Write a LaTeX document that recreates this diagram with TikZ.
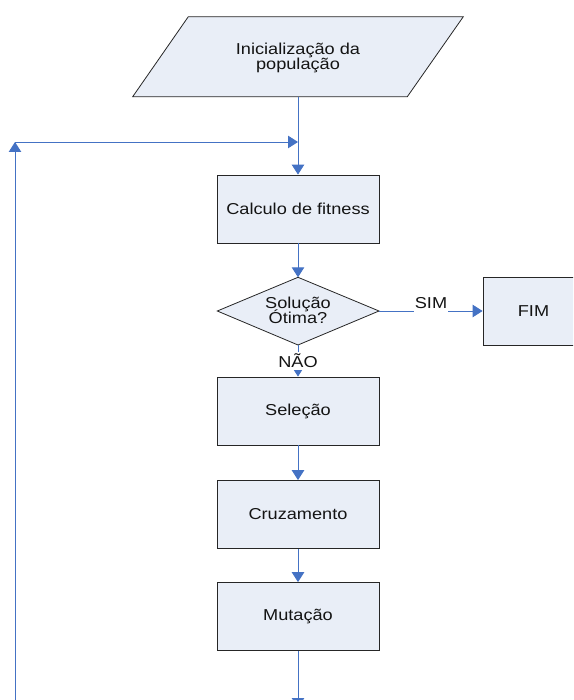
\documentclass[tikz,border=0pt]{standalone}
\usepackage{fontspec}
\newfontfamily\diagfont[FakeStretch=1.15]{Liberation Sans}
\usetikzlibrary{arrows.meta}
\definecolor{boxfill}{RGB}{233,238,247}
\definecolor{flowblue}{RGB}{68,114,196}
\definecolor{inkgray}{RGB}{20,20,20}
\newcommand\diaglabelfont{\diagfont\fontsize{15.8}{13}\selectfont}
\begin{document}
\begin{tikzpicture}[x=1pt,y=-1pt,
  shape outline/.style={draw=black!85, line width=0.8pt, fill=boxfill},
  label text/.style={font=\diaglabelfont, text=inkgray},
  textline/.style={label text, anchor=base, inner sep=0pt},
  stepbox/.style={shape outline, rectangle, minimum width=162pt,
    minimum height=68pt, inner sep=0pt, label text},
  flow/.style={draw=flowblue, line width=0.9pt,
    -{Triangle[width=12.5pt,length=10pt]}},
  tag/.style={fill=white, inner xsep=1pt, label text, anchor=base}]

  \useasboundingbox (0,0) rectangle (573,700);
  \clip (0,0) rectangle (573,700);

  % start: input parallelogram
  \coordinate (ptl) at (188.3,16.7);
  \coordinate (ptr) at (463.3,16.7);
  \coordinate (pbr) at (407.3,96.7);
  \coordinate (pbl) at (132.7,96.7);
  \coordinate (pbottom) at (298,96.7);
  \draw[shape outline] (ptl) -- (ptr) -- (pbr) -- (pbl) -- cycle;
  \node[textline] (init1) at (298,54.4) {Inicialização da};
  \node[textline] (init2) at (298,69.4) {população};

  % process steps
  \node[stepbox] (calc) at (298,209) {Calculo de fitness};
  \node[stepbox] (sel)  at (298,411) {Seleção};
  \node[stepbox] (cruz) at (298,514.5) {Cruzamento};
  \node[stepbox] (mut)  at (298,616.5) {Mutação};
  \node[stepbox, minimum width=101pt] (fim) at (533.5,311) {FIM};

  % decision diamond
  \coordinate (dtop) at (298,277.3);
  \coordinate (dright) at (379,311);
  \coordinate (dbottom) at (298,345);
  \coordinate (dleft) at (217.3,311);
  \draw[shape outline] (dtop) -- (dright) -- (dbottom) -- (dleft) -- cycle;
  \node[textline] (decide1) at (298,308.6) {Solução};
  \node[textline] (decide2) at (298,323.2) {Ótima?};

  % loop back to fitness evaluation
  \coordinate (loopfoot) at (15,720);
  \coordinate (loopcorner) at (15,142);
  \coordinate (merge) at (298,142);
  \coordinate (mutout) at (298,708);

  % connectors
  \draw[flow] (pbottom) -- (calc.north);
  \draw[flow] (calc.south) -- (dtop);
  \draw[flow] (dright) -- (fim.west);
  \draw[flow] (dbottom) -- (sel.north);
  \draw[flow] (sel.south) -- (cruz.north);
  \draw[flow] (cruz.south) -- (mut.north);
  \draw[flow] (mut.south) -- (mutout);
  \draw[flow] (loopfoot) -- (loopcorner);
  \draw[flow] (loopcorner) -- (merge);

  % branch labels
  \node[tag, inner ysep=4.8pt] (yes) at (431,308.3) {SIM};
  \node[tag, inner ysep=2pt] (no) at (298,367.5) {NÃO};
\end{tikzpicture}
\end{document}
